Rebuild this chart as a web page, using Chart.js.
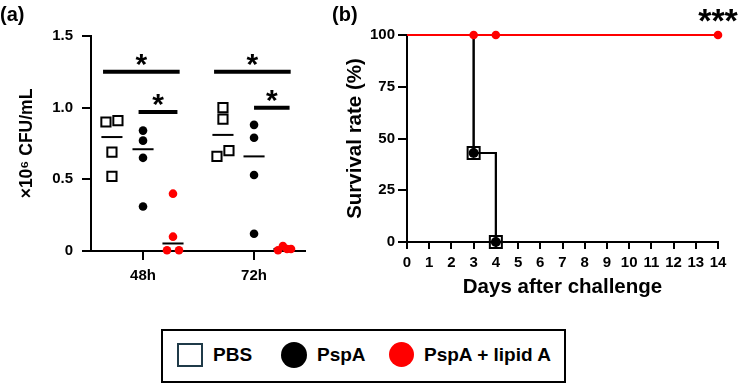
<!DOCTYPE html>
<html>
<head>
<meta charset="utf-8">
<script src="https://cdn.jsdelivr.net/npm/chart.js@4.4.1/dist/chart.umd.min.js"></script>
<style>
  body { margin: 0; background: #fff; }
  #wrap { position: relative; width: 750px; height: 386px; background: #fff; font-family: "Liberation Sans", Arial, sans-serif; font-weight: bold; color: #000; }
  canvas { position: absolute; }
  .tag { position: absolute; font-size: 20px; line-height: 20px; }
  #legend { position: absolute; left: 161px; top: 329px; width: 401px; height: 50px; border: 2px solid #000; }
  #legend div { position: absolute; }
  #legend .txt { top: 12px; line-height: 24px; font-size: 19px; white-space: nowrap; }
</style>
</head>
<body>
<div id="wrap">
  <canvas id="ca" width="320" height="290" style="left:0;top:0"></canvas>
  <canvas id="cb" width="430" height="300" style="left:320px;top:0"></canvas>
  <div class="tag" style="left:0;top:4px">(a)</div>
  <div class="tag" style="left:332px;top:4px">(b)</div>
  <div id="legend">
    <div style="left:14px;top:12px;width:22px;height:20px;border:2px solid #1f3a48"></div>
    <div class="txt" style="left:50px">PBS</div>
    <div style="left:118px;top:11px;width:26px;height:26px;border-radius:50%;background:#000"></div>
    <div class="txt" style="left:154px">PspA</div>
    <div style="left:226px;top:11px;width:25px;height:25px;border-radius:50%;background:#ff0000"></div>
    <div class="txt" style="left:261px">PspA + lipid A</div>
  </div>
</div>
<script>
// (a) bacterial load, x10^6 CFU/mL, 4 mice per group
var timepoints = ["48h", "72h"];
var pbsCFU   = [[0.90, 0.91, 0.69, 0.52], [1.00, 0.92, 0.66, 0.70]];
var pspaCFU  = [[0.84, 0.77, 0.65, 0.31], [0.88, 0.79, 0.53, 0.12]];
var lipidCFU = [[0.40, 0.10, 0.005, 0.005], [0.005, 0.035, 0.014, 0.014]];
var yTicksA  = ["0", "0.5", "1.0", "1.5"];

// (b) survival
var days      = [0, 3, 4, 14];
var pbsSurv   = [100, 43, 0, 0];
var pspaSurv  = [100, 43, 0, 0];
var lipidSurv = [100, 100, 100, 100];

Chart.defaults.font.family = '"Liberation Sans", Arial, sans-serif';
Chart.defaults.font.weight = 'bold';
Chart.defaults.color = '#000';

// horizontal spread of the dots inside a group (scatter-dot layout)
var jitter = {
    pbs:   [[-0.054, 0.054, 0, 0], [0, 0, -0.054, 0.054]],
    pspa:  [[0, 0, 0, 0], [0, 0, 0, 0]],
    lipid: [[0, 0, -0.054, 0.054], [-0.054, -0.01, 0.027, 0.063]]
};
var groupOffset = { pbs: -0.28, pspa: 0, lipid: 0.27 };

function pts(vals, key) {
    var out = [];
    for (var t = 0; t < vals.length; t++) {
        for (var i = 0; i < vals[t].length; i++) {
            out.push({ x: t + 1 + groupOffset[key] + jitter[key][t][i], y: vals[t][i] });
        }
    }
    return out;
}

function median(a) {
    var s = a.slice().sort(function (p, q) { return p - q; });
    var m = s.length / 2;
    return s.length % 2 ? s[Math.floor(m)] : (s[m - 1] + s[m]) / 2;
}

function drawStars(ctx, text, x, cy, size) {
    ctx.font = 'bold ' + size + 'px "Liberation Sans", Arial, sans-serif';
    ctx.textAlign = 'center';
    ctx.textBaseline = 'alphabetic';
    ctx.fillStyle = '#000';
    ctx.fillText(text, x, cy + 0.57 * size);
}

var sigBars = [
    { t: 0, from: 'pbs', to: 'lipid', y: 1.25, a: -0.08, b: 0.06 },
    { t: 0, from: 'pspa', to: 'lipid', y: 0.97, a: -0.04, b: 0.04 },
    { t: 1, from: 'pbs', to: 'lipid', y: 1.25, a: -0.08, b: 0.06 },
    { t: 1, from: 'pspa', to: 'lipid', y: 1.0, a: -0.00, b: 0.05 }
];

var panelAMarks = {
    id: 'panelAMarks',
    beforeDatasetsDraw: function (chart) {
        var ctx = chart.ctx, x = chart.scales.x, y = chart.scales.y;
        var groups = [['pbs', pbsCFU], ['pspa', pspaCFU], ['lipid', lipidCFU]];
        ctx.save();
        ctx.strokeStyle = '#000';
        ctx.lineWidth = 2;
        groups.forEach(function (g) {
            for (var t = 0; t < timepoints.length; t++) {
                var c = t + 1 + groupOffset[g[0]];
                var yy = y.getPixelForValue(median(g[1][t]));
                ctx.beginPath();
                ctx.moveTo(x.getPixelForValue(c - 0.095), yy);
                ctx.lineTo(x.getPixelForValue(c + 0.095), yy);
                ctx.stroke();
            }
        });
        ctx.lineWidth = 4;
        sigBars.forEach(function (s) {
            var x0 = x.getPixelForValue(s.t + 1 + groupOffset[s.from] + s.a);
            var x1 = x.getPixelForValue(s.t + 1 + groupOffset[s.to] + s.b);
            var yy = y.getPixelForValue(s.y);
            ctx.beginPath();
            ctx.moveTo(x0, yy);
            ctx.lineTo(x1, yy);
            ctx.stroke();
            drawStars(ctx, '*', (x0 + x1) / 2, yy - 15, 30);
        });
        ctx.restore();
    }
};

new Chart(document.getElementById('ca'), {
    type: 'scatter',
    data: {
        datasets: [
            { label: 'PBS', data: pts(pbsCFU, 'pbs'), pointStyle: 'rect', pointRadius: 6.5,
              borderColor: '#000', backgroundColor: '#fff', borderWidth: 2, clip: false },
            { label: 'PspA', data: pts(pspaCFU, 'pspa'), pointRadius: 4.3,
              borderColor: '#000', backgroundColor: '#000', borderWidth: 0, clip: false },
            { label: 'PspA + lipid A', data: pts(lipidCFU, 'lipid'), pointRadius: 4.3,
              borderColor: '#ff0000', backgroundColor: '#ff0000', borderWidth: 0, clip: false }
        ]
    },
    options: {
        responsive: false,
        animation: false,
        layout: { padding: { left: 0, right: 15, top: 36, bottom: 0 } },
        plugins: { legend: { display: false }, tooltip: { enabled: false } },
        scales: {
            x: {
                type: 'linear', min: 0.5315, max: 2.459,
                afterBuildTicks: function (s) { s.ticks = [{ value: 1 }, { value: 2 }]; },
                afterFit: function (s) { s.height = 39; },
                ticks: { font: { size: 15, weight: 'bold' }, padding: 7,
                         callback: function (v) { return timepoints[v - 1]; } },
                grid: { drawOnChartArea: false, tickLength: 9, color: '#000', lineWidth: 2 },
                border: { color: '#000', width: 2 }
            },
            y: {
                min: 0, max: 1.5,
                afterBuildTicks: function (s) { s.ticks = [{ value: 0 }, { value: 0.5 }, { value: 1 }, { value: 1.5 }]; },
                afterFit: function (s) { s.width = 91; },
                ticks: { font: { size: 15, weight: 'bold' }, padding: 9,
                         callback: function (v, i) { return yTicksA[i]; } },
                grid: { drawOnChartArea: false, tickLength: 9, color: '#000', lineWidth: 2 },
                border: { color: '#000', width: 2 },
                title: { display: true, text: '×10⁶ CFU/mL', font: { size: 17.5, weight: 'bold' },
                         padding: { top: 16.5, bottom: 0 } }
            }
        }
    },
    plugins: [panelAMarks]
});

var panelBMarks = {
    id: 'panelBMarks',
    afterDraw: function (chart) {
        var ctx = chart.ctx, x = chart.scales.x, y = chart.scales.y;
        ctx.save();
        drawStars(ctx, '***', x.getPixelForValue(14), y.getPixelForValue(100) - 22, 34);
        ctx.restore();
    }
};

function xy(ys) {
    return days.map(function (d, i) { return { x: d, y: ys[i] }; });
}

new Chart(document.getElementById('cb'), {
    type: 'line',
    data: {
        datasets: [
            { label: 'PspA + lipid A', data: xy(lipidSurv), borderColor: '#ff0000', backgroundColor: '#ff0000',
              borderWidth: 2, pointRadius: [0, 4.3, 4.3, 4.3], pointBorderWidth: 0, tension: 0, clip: false },
            { label: 'PBS', data: xy(pbsSurv), stepped: 'before', borderColor: '#000', backgroundColor: 'rgba(0,0,0,0)',
              borderWidth: 2, pointStyle: 'rect', pointRadius: [0, 8.5, 8.5, 0], pointBorderWidth: 2, clip: false },
            { label: 'PspA', data: xy(pspaSurv), stepped: 'before', borderColor: '#000', backgroundColor: '#000',
              borderWidth: 2, pointRadius: [0, 5, 5, 0], pointBorderWidth: 0, clip: false }
        ]
    },
    options: {
        responsive: false,
        animation: false,
        layout: { padding: { left: 0, right: 32, top: 35, bottom: 0 } },
        plugins: { legend: { display: false }, tooltip: { enabled: false } },
        scales: {
            x: {
                type: 'linear', min: 0, max: 14,
                ticks: { stepSize: 1, font: { size: 15, weight: 'bold' }, padding: 5, autoSkip: false, maxRotation: 0 },
                afterFit: function (s) { s.height = 58; },
                grid: { drawOnChartArea: false, tickLength: 7, color: '#000', lineWidth: 2 },
                border: { color: '#000', width: 2 },
                title: { display: true, text: 'Days after challenge', font: { size: 20.5, weight: 'bold' },
                         padding: { top: 0, bottom: 0.7 } }
            },
            y: {
                min: 0, max: 100,
                ticks: { stepSize: 25, font: { size: 15, weight: 'bold' }, padding: 3 },
                afterFit: function (s) { s.width = 87; },
                grid: { drawOnChartArea: false, tickLength: 9, color: '#000', lineWidth: 2 },
                border: { color: '#000', width: 2 },
                title: { display: true, text: 'Survival rate (%)', font: { size: 20.5, weight: 'bold' },
                         padding: { top: 22.7, bottom: 0 } }
            }
        }
    },
    plugins: [panelBMarks]
});
</script>
</body>
</html>
